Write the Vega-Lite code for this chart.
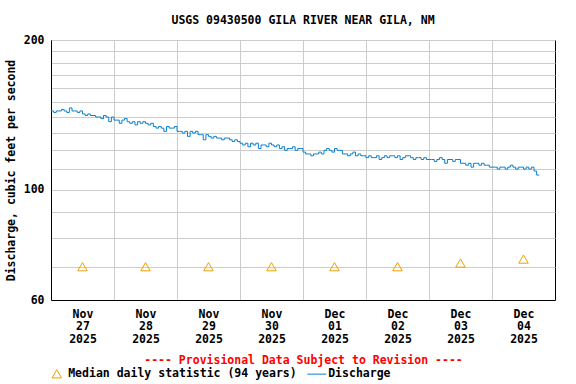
{
  "$schema": "https://vega.github.io/schema/vega-lite/v6.json",
  "width": 504,
  "height": 260,
  "autosize": {"type": "none"},
  "padding": {"left": 51, "top": 40, "right": 21, "bottom": 84},
  "background": "white",
  "title": {"text": "USGS 09430500 GILA RIVER NEAR GILA, NM", "font": "DejaVu Sans Mono", "fontSize": 11.5, "fontWeight": "bold", "color": "black", "anchor": "middle", "frame": "group", "baseline": "alphabetic", "offset": -1},
  "config": {
    "view": {"stroke": "black", "strokeWidth": 1},
    "axis": {
      "labelFont": "DejaVu Sans Mono", "labelFontSize": 11.5, "labelFontWeight": "bold", "labelColor": "black",
      "titleFont": "DejaVu Sans Mono", "titleFontSize": 11.5, "titleFontWeight": "bold", "titleColor": "black",
      "ticks": false, "domainColor": "black", "gridColor": "#cccccc", "gridOpacity": 1, "gridWidth": 1
    },
    "legend": {
      "labelFont": "DejaVu Sans Mono", "labelFontSize": 11.5, "labelFontWeight": "bold", "labelColor": "black", "labelLimit": 0,
      "symbolStrokeWidth": 1, "symbolSize": 361, "labelOffset": 5.7, "columnPadding": 8, "padding": 0, "offset": 1
    }
  },
  "datasets": {
    "q": [
      {"s":"D","t":"2025-11-27T00:00","v":144},{"s":"D","t":"2025-11-27T01:00","v":143},{"s":"D","t":"2025-11-27T02:00","v":144},{"s":"D","t":"2025-11-27T03:00","v":144},{"s":"D","t":"2025-11-27T04:00","v":145},{"s":"D","t":"2025-11-27T05:00","v":144},{"s":"D","t":"2025-11-27T06:00","v":143},{"s":"D","t":"2025-11-27T07:00","v":146},{"s":"D","t":"2025-11-27T08:00","v":144},{"s":"D","t":"2025-11-27T09:00","v":144},{"s":"D","t":"2025-11-27T10:00","v":143},{"s":"D","t":"2025-11-27T11:00","v":144},
      {"s":"D","t":"2025-11-27T12:00","v":142},{"s":"D","t":"2025-11-27T13:00","v":141},{"s":"D","t":"2025-11-27T14:00","v":142},{"s":"D","t":"2025-11-27T15:00","v":141},{"s":"D","t":"2025-11-27T16:00","v":141},{"s":"D","t":"2025-11-27T17:00","v":140},{"s":"D","t":"2025-11-27T18:00","v":140},{"s":"D","t":"2025-11-27T19:00","v":139},{"s":"D","t":"2025-11-27T20:00","v":141},{"s":"D","t":"2025-11-27T21:00","v":140},{"s":"D","t":"2025-11-27T22:00","v":137},{"s":"D","t":"2025-11-27T23:00","v":140},
      {"s":"D","t":"2025-11-28T00:00","v":138},{"s":"D","t":"2025-11-28T01:00","v":138},{"s":"D","t":"2025-11-28T02:00","v":136},{"s":"D","t":"2025-11-28T03:00","v":138},{"s":"D","t":"2025-11-28T04:00","v":139},{"s":"D","t":"2025-11-28T05:00","v":137},{"s":"D","t":"2025-11-28T06:00","v":136},{"s":"D","t":"2025-11-28T07:00","v":137},{"s":"D","t":"2025-11-28T08:00","v":135},{"s":"D","t":"2025-11-28T09:00","v":137},{"s":"D","t":"2025-11-28T10:00","v":136},{"s":"D","t":"2025-11-28T11:00","v":137},
      {"s":"D","t":"2025-11-28T12:00","v":136},{"s":"D","t":"2025-11-28T13:00","v":135},{"s":"D","t":"2025-11-28T14:00","v":136},{"s":"D","t":"2025-11-28T15:00","v":134},{"s":"D","t":"2025-11-28T16:00","v":133},{"s":"D","t":"2025-11-28T17:00","v":134},{"s":"D","t":"2025-11-28T18:00","v":133},{"s":"D","t":"2025-11-28T19:00","v":131},{"s":"D","t":"2025-11-28T20:00","v":134},{"s":"D","t":"2025-11-28T21:00","v":133},{"s":"D","t":"2025-11-28T22:00","v":133},{"s":"D","t":"2025-11-28T23:00","v":134},
      {"s":"D","t":"2025-11-29T00:00","v":131},{"s":"D","t":"2025-11-29T01:00","v":131},{"s":"D","t":"2025-11-29T02:00","v":130},{"s":"D","t":"2025-11-29T03:00","v":131},{"s":"D","t":"2025-11-29T04:00","v":128},{"s":"D","t":"2025-11-29T05:00","v":131},{"s":"D","t":"2025-11-29T06:00","v":130},{"s":"D","t":"2025-11-29T07:00","v":131},{"s":"D","t":"2025-11-29T08:00","v":129},{"s":"D","t":"2025-11-29T09:00","v":129},{"s":"D","t":"2025-11-29T10:00","v":126},{"s":"D","t":"2025-11-29T11:00","v":129},
      {"s":"D","t":"2025-11-29T12:00","v":128},{"s":"D","t":"2025-11-29T13:00","v":127},{"s":"D","t":"2025-11-29T14:00","v":128},{"s":"D","t":"2025-11-29T15:00","v":127},{"s":"D","t":"2025-11-29T16:00","v":127},{"s":"D","t":"2025-11-29T17:00","v":126},{"s":"D","t":"2025-11-29T18:00","v":127},{"s":"D","t":"2025-11-29T19:00","v":127},{"s":"D","t":"2025-11-29T20:00","v":126},{"s":"D","t":"2025-11-29T21:00","v":125},{"s":"D","t":"2025-11-29T22:00","v":126},{"s":"D","t":"2025-11-29T23:00","v":125},
      {"s":"D","t":"2025-11-30T00:00","v":124},{"s":"D","t":"2025-11-30T01:00","v":123},{"s":"D","t":"2025-11-30T02:00","v":124},{"s":"D","t":"2025-11-30T03:00","v":122},{"s":"D","t":"2025-11-30T04:00","v":124},{"s":"D","t":"2025-11-30T05:00","v":123},{"s":"D","t":"2025-11-30T06:00","v":124},{"s":"D","t":"2025-11-30T07:00","v":121},{"s":"D","t":"2025-11-30T08:00","v":123},{"s":"D","t":"2025-11-30T09:00","v":123},{"s":"D","t":"2025-11-30T10:00","v":122},{"s":"D","t":"2025-11-30T11:00","v":124},
      {"s":"D","t":"2025-11-30T12:00","v":123},{"s":"D","t":"2025-11-30T13:00","v":122},{"s":"D","t":"2025-11-30T14:00","v":123},{"s":"D","t":"2025-11-30T15:00","v":121},{"s":"D","t":"2025-11-30T16:00","v":122},{"s":"D","t":"2025-11-30T17:00","v":120},{"s":"D","t":"2025-11-30T18:00","v":121},{"s":"D","t":"2025-11-30T19:00","v":121},{"s":"D","t":"2025-11-30T20:00","v":122},{"s":"D","t":"2025-11-30T21:00","v":120},{"s":"D","t":"2025-11-30T22:00","v":121},{"s":"D","t":"2025-11-30T23:00","v":121},
      {"s":"D","t":"2025-12-01T00:00","v":119},{"s":"D","t":"2025-12-01T01:00","v":118},{"s":"D","t":"2025-12-01T02:00","v":118},{"s":"D","t":"2025-12-01T03:00","v":117},{"s":"D","t":"2025-12-01T04:00","v":118},{"s":"D","t":"2025-12-01T05:00","v":118},{"s":"D","t":"2025-12-01T06:00","v":119},{"s":"D","t":"2025-12-01T07:00","v":118},{"s":"D","t":"2025-12-01T08:00","v":120},{"s":"D","t":"2025-12-01T09:00","v":121},{"s":"D","t":"2025-12-01T10:00","v":120},{"s":"D","t":"2025-12-01T11:00","v":119},
      {"s":"D","t":"2025-12-01T12:00","v":121},{"s":"D","t":"2025-12-01T13:00","v":120},{"s":"D","t":"2025-12-01T14:00","v":120},{"s":"D","t":"2025-12-01T15:00","v":118},{"s":"D","t":"2025-12-01T16:00","v":118},{"s":"D","t":"2025-12-01T17:00","v":117},{"s":"D","t":"2025-12-01T18:00","v":118},{"s":"D","t":"2025-12-01T19:00","v":119},{"s":"D","t":"2025-12-01T20:00","v":117},{"s":"D","t":"2025-12-01T21:00","v":118},{"s":"D","t":"2025-12-01T22:00","v":117},{"s":"D","t":"2025-12-01T23:00","v":117},
      {"s":"D","t":"2025-12-02T00:00","v":116},{"s":"D","t":"2025-12-02T01:00","v":117},{"s":"D","t":"2025-12-02T02:00","v":116},{"s":"D","t":"2025-12-02T03:00","v":116},{"s":"D","t":"2025-12-02T04:00","v":117},{"s":"D","t":"2025-12-02T05:00","v":115},{"s":"D","t":"2025-12-02T06:00","v":116},{"s":"D","t":"2025-12-02T07:00","v":117},{"s":"D","t":"2025-12-02T08:00","v":116},{"s":"D","t":"2025-12-02T09:00","v":117},{"s":"D","t":"2025-12-02T10:00","v":117},{"s":"D","t":"2025-12-02T11:00","v":116},
      {"s":"D","t":"2025-12-02T12:00","v":117},{"s":"D","t":"2025-12-02T13:00","v":115},{"s":"D","t":"2025-12-02T14:00","v":116},{"s":"D","t":"2025-12-02T15:00","v":117},{"s":"D","t":"2025-12-02T16:00","v":117},{"s":"D","t":"2025-12-02T17:00","v":116},{"s":"D","t":"2025-12-02T18:00","v":115},{"s":"D","t":"2025-12-02T19:00","v":116},{"s":"D","t":"2025-12-02T20:00","v":116},{"s":"D","t":"2025-12-02T21:00","v":115},{"s":"D","t":"2025-12-02T22:00","v":116},{"s":"D","t":"2025-12-02T23:00","v":115},
      {"s":"D","t":"2025-12-03T00:00","v":115},{"s":"D","t":"2025-12-03T01:00","v":115},{"s":"D","t":"2025-12-03T02:00","v":114},{"s":"D","t":"2025-12-03T03:00","v":115},{"s":"D","t":"2025-12-03T04:00","v":116},{"s":"D","t":"2025-12-03T05:00","v":115},{"s":"D","t":"2025-12-03T06:00","v":113},{"s":"D","t":"2025-12-03T07:00","v":115},{"s":"D","t":"2025-12-03T08:00","v":115},{"s":"D","t":"2025-12-03T09:00","v":114},{"s":"D","t":"2025-12-03T10:00","v":115},{"s":"D","t":"2025-12-03T11:00","v":115},
      {"s":"D","t":"2025-12-03T12:00","v":113},{"s":"D","t":"2025-12-03T13:00","v":113},{"s":"D","t":"2025-12-03T14:00","v":112},{"s":"D","t":"2025-12-03T15:00","v":113},{"s":"D","t":"2025-12-03T16:00","v":111},{"s":"D","t":"2025-12-03T17:00","v":113},{"s":"D","t":"2025-12-03T18:00","v":113},{"s":"D","t":"2025-12-03T19:00","v":112},{"s":"D","t":"2025-12-03T20:00","v":113},{"s":"D","t":"2025-12-03T21:00","v":112},{"s":"D","t":"2025-12-03T22:00","v":112},{"s":"D","t":"2025-12-03T23:00","v":111},
      {"s":"D","t":"2025-12-04T00:00","v":111},{"s":"D","t":"2025-12-04T01:00","v":111},{"s":"D","t":"2025-12-04T02:00","v":110},{"s":"D","t":"2025-12-04T03:00","v":111},{"s":"D","t":"2025-12-04T04:00","v":111},{"s":"D","t":"2025-12-04T05:00","v":110},{"s":"D","t":"2025-12-04T06:00","v":111},{"s":"D","t":"2025-12-04T07:00","v":112},{"s":"D","t":"2025-12-04T08:00","v":111},{"s":"D","t":"2025-12-04T09:00","v":110},{"s":"D","t":"2025-12-04T10:00","v":111},{"s":"D","t":"2025-12-04T11:00","v":111},
      {"s":"D","t":"2025-12-04T12:00","v":110},{"s":"D","t":"2025-12-04T13:00","v":111},{"s":"D","t":"2025-12-04T14:00","v":110},{"s":"D","t":"2025-12-04T15:00","v":111},{"s":"D","t":"2025-12-04T16:00","v":109},{"s":"D","t":"2025-12-04T17:00","v":107},{"s":"D","t":"2025-12-04T18:00","v":107}
    ],
    "m": [
      {"s":"M","t":"2025-11-27T12:00","v":70},{"s":"M","t":"2025-11-28T12:00","v":70},{"s":"M","t":"2025-11-29T12:00","v":70},{"s":"M","t":"2025-11-30T12:00","v":70},
      {"s":"M","t":"2025-12-01T12:00","v":70},{"s":"M","t":"2025-12-02T12:00","v":70},{"s":"M","t":"2025-12-03T12:00","v":71.2},{"s":"M","t":"2025-12-04T12:00","v":72.5}
    ]
  },
  "encoding": {
    "x": {
      "field": "t", "type": "temporal",
      "scale": {"domain": [{"year": 2025, "month": "Nov", "date": 27}, {"year": 2025, "month": "Dec", "date": 5}], "nice": false},
      "axis": {
        "title": "---- Provisional Data Subject to Revision ----", "titleColor": "#ff0000", "titlePadding": 10,
        "values": [
          {"year": 2025, "month": "Nov", "date": 27}, {"year": 2025, "month": "Nov", "date": 28},
          {"year": 2025, "month": "Nov", "date": 29}, {"year": 2025, "month": "Nov", "date": 30},
          {"year": 2025, "month": "Dec", "date": 1}, {"year": 2025, "month": "Dec", "date": 2},
          {"year": 2025, "month": "Dec", "date": 3}, {"year": 2025, "month": "Dec", "date": 4}
        ],
        "labelExpr": "[timeFormat(datum.value, '%b'), timeFormat(datum.value, '%d'), timeFormat(datum.value, '%Y')]",
        "labelOffset": 31.5, "labelAlign": "center", "labelLineHeight": 12.7, "labelPadding": 8,
        "labelFlush": false, "labelOverlap": false, "labelBound": false, "grid": true
      }
    },
    "y": {
      "field": "v", "type": "quantitative",
      "scale": {"type": "log", "domain": [60, 200], "nice": false},
      "axis": {
        "title": "Discharge, cubic feet per second", "titlePadding": 7,
        "values": [60, 70, 80, 90, 100, 110, 120, 130, 140, 150, 160, 170, 180, 190, 200],
        "labelExpr": "(datum.value == 60 || datum.value == 100 || datum.value == 200) ? format(datum.value, 'd') : ''",
        "labelPadding": 7, "labelOverlap": false, "labelFlush": false, "labelBound": false, "grid": true
      }
    },
    "color": {
      "field": "s", "type": "nominal",
      "scale": {"domain": ["M", "D"], "range": ["#f0a000", "#0a80d0"]},
      "legend": {
        "title": null, "orient": "bottom", "direction": "horizontal",
        "labelExpr": "datum.value == 'D' ? 'Discharge' : 'Median daily statistic (94 years)'",
        "encode": {"symbols": {"update": {"size": {"signal": "datum.value === 'D' ? 361 : 90"}}}}
      }
    }
  },
  "layer": [
    {
      "data": {"name": "q"},
      "mark": {"type": "line", "interpolate": "step-after", "strokeWidth": 1}
    },
    {
      "data": {"name": "m"},
      "mark": {"type": "point", "filled": false, "strokeWidth": 1, "size": 90, "opacity": 1},
      "encoding": {
        "shape": {
          "field": "s", "type": "nominal",
          "scale": {"domain": ["M", "D"], "range": ["triangle-up", "stroke"]},
          "legend": {
            "title": null, "orient": "bottom", "direction": "horizontal",
            "labelExpr": "datum.value == 'D' ? 'Discharge' : 'Median daily statistic (94 years)'",
            "encode": {"symbols": {"update": {"size": {"signal": "datum.value === 'D' ? 361 : 90"}}}}
          }
        }
      }
    }
  ]
}
